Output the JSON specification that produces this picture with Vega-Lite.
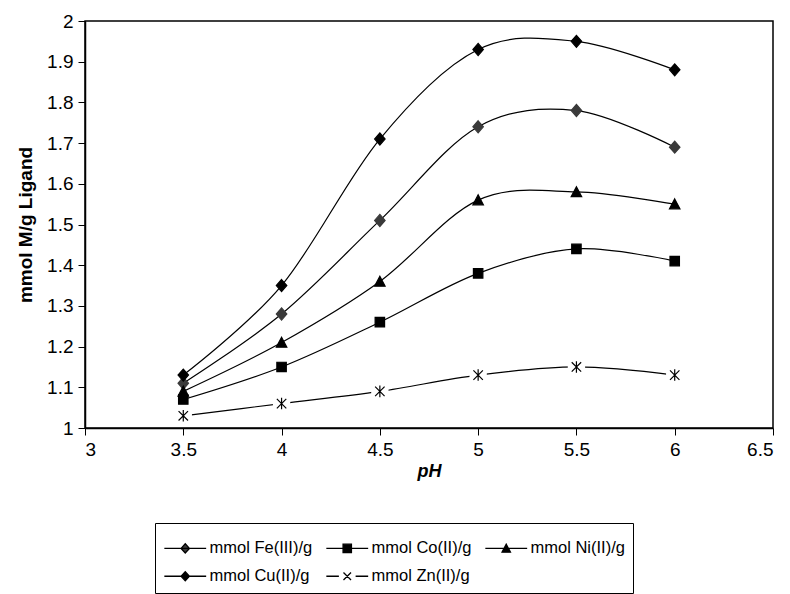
{
  "$schema": "https://vega.github.io/schema/vega-lite/v6.json",
  "width": 688,
  "height": 407,
  "autosize": {"type": "none"},
  "padding": {"left": 85, "top": 21, "right": 17, "bottom": 166},
  "background": "white",
  "config": {
    "font": "Liberation Sans",
    "view": {"stroke": "black", "strokeWidth": 1.5},
    "axis": {"grid": false, "domainColor": "black", "tickColor": "black", "labelColor": "black", "titleColor": "black", "labelFontSize": 19, "titleFontSize": 19, "tickSize": 7, "labelPadding": 5, "domainWidth": 1.5, "tickWidth": 1}
  },
  "resolve": {"scale": {"shape": "independent", "fill": "independent", "stroke": "independent"}},
  "data": {"values": [
    {"ph": 3.5, "v": 1.11, "s": "mmol Fe(III)/g"},
    {"ph": 4.0, "v": 1.28, "s": "mmol Fe(III)/g"},
    {"ph": 4.5, "v": 1.51, "s": "mmol Fe(III)/g"},
    {"ph": 5.0, "v": 1.74, "s": "mmol Fe(III)/g"},
    {"ph": 5.5, "v": 1.78, "s": "mmol Fe(III)/g"},
    {"ph": 6.0, "v": 1.69, "s": "mmol Fe(III)/g"},
    {"ph": 3.5, "v": 1.07, "s": "mmol Co(II)/g"},
    {"ph": 4.0, "v": 1.15, "s": "mmol Co(II)/g"},
    {"ph": 4.5, "v": 1.26, "s": "mmol Co(II)/g"},
    {"ph": 5.0, "v": 1.38, "s": "mmol Co(II)/g"},
    {"ph": 5.5, "v": 1.44, "s": "mmol Co(II)/g"},
    {"ph": 6.0, "v": 1.41, "s": "mmol Co(II)/g"},
    {"ph": 3.5, "v": 1.09, "s": "mmol Ni(II)/g"},
    {"ph": 4.0, "v": 1.21, "s": "mmol Ni(II)/g"},
    {"ph": 4.5, "v": 1.36, "s": "mmol Ni(II)/g"},
    {"ph": 5.0, "v": 1.56, "s": "mmol Ni(II)/g"},
    {"ph": 5.5, "v": 1.58, "s": "mmol Ni(II)/g"},
    {"ph": 6.0, "v": 1.55, "s": "mmol Ni(II)/g"},
    {"ph": 3.5, "v": 1.13, "s": "mmol Cu(II)/g"},
    {"ph": 4.0, "v": 1.35, "s": "mmol Cu(II)/g"},
    {"ph": 4.5, "v": 1.71, "s": "mmol Cu(II)/g"},
    {"ph": 5.0, "v": 1.93, "s": "mmol Cu(II)/g"},
    {"ph": 5.5, "v": 1.95, "s": "mmol Cu(II)/g"},
    {"ph": 6.0, "v": 1.88, "s": "mmol Cu(II)/g"},
    {"ph": 3.5, "v": 1.03, "s": "mmol Zn(II)/g"},
    {"ph": 4.0, "v": 1.06, "s": "mmol Zn(II)/g"},
    {"ph": 4.5, "v": 1.09, "s": "mmol Zn(II)/g"},
    {"ph": 5.0, "v": 1.13, "s": "mmol Zn(II)/g"},
    {"ph": 5.5, "v": 1.15, "s": "mmol Zn(II)/g"},
    {"ph": 6.0, "v": 1.13, "s": "mmol Zn(II)/g"}
  ]},
  "encoding": {
    "x": {"field": "ph", "type": "quantitative", "scale": {"domain": [3, 6.5], "nice": false, "zero": false},
      "axis": {"values": [3, 3.5, 4, 4.5, 5, 5.5, 6, 6.5], "format": "~g", "title": "pH", "titleFontStyle": "italic", "titleFontWeight": "bold", "titleFontSize": 18, "titlePadding": 3}},
    "y": {"field": "v", "type": "quantitative", "scale": {"domain": [1, 2], "nice": false, "zero": false},
      "axis": {"values": [1, 1.1, 1.2, 1.3, 1.4, 1.5, 1.6, 1.7, 1.8, 1.9, 2], "format": "~g", "title": "mmol M/g Ligand", "titleFontWeight": "bold", "titlePadding": 11}}
  },
  "layer": [
    {
      "mark": {"type": "line", "interpolate": "cardinal", "tension": 0, "color": "black", "strokeWidth": 1.2},
      "encoding": {"detail": {"field": "s"}}
    },
    {
      "transform": [{"filter": "datum.s == 'mmol Zn(II)/g'"}],
      "mark": {"type": "square", "color": "white", "opacity": 1, "size": 300}
    },
    {
      "mark": {"type": "point", "filled": true, "size": 110, "strokeWidth": 1.2, "opacity": 1},
      "encoding": {
        "shape": {"field": "s", "type": "nominal", "legend": null,
          "scale": {"domain": ["mmol Fe(III)/g", "mmol Co(II)/g", "mmol Ni(II)/g", "mmol Cu(II)/g", "mmol Zn(II)/g"],
            "range": ["M0,-1.15L1,0L0,1.15L-1,0Z", "M-0.9,-0.9H0.9V0.9H-0.9Z", "M0,-1L1,0.9H-1Z", "M0,-1.15L1,0L0,1.15L-1,0Z", "M-0.9,-0.9L0.9,0.9M0.9,-0.9L-0.9,0.9M0,-1.1V1.1"]}},
        "fill": {"field": "s", "type": "nominal", "legend": null,
          "scale": {"domain": ["mmol Fe(III)/g", "mmol Co(II)/g", "mmol Ni(II)/g", "mmol Cu(II)/g", "mmol Zn(II)/g"],
            "range": ["#3a3a3a", "black", "black", "black", "white"]}},
        "stroke": {"field": "s", "type": "nominal", "legend": null,
          "scale": {"domain": ["mmol Fe(III)/g", "mmol Co(II)/g", "mmol Ni(II)/g", "mmol Cu(II)/g", "mmol Zn(II)/g"],
            "range": ["#3a3a3a", "black", "black", "black", "black"]}}
      }
    },
    {
      "transform": [{"filter": "datum.ph > 100"}],
      "mark": {"type": "point", "filled": true, "size": 70, "stroke": "black", "strokeWidth": 1.3, "opacity": 1},
      "encoding": {
        "shape": {"field": "s", "type": "nominal",
          "scale": {"domain": ["mmol Fe(III)/g", "mmol Co(II)/g", "mmol Ni(II)/g", "mmol Cu(II)/g", "mmol Zn(II)/g"],
            "range": ["M-5,0H5M0,-1.1L1,0L0,1.1L-1,0Z", "M-5,0H5M-1,-1H1V1H-1Z", "M-5,0H5M0,-1L1,0.9H-1Z", "M-5,0H5M0,-1.1L1,0L0,1.1L-1,0Z", "M-5,0H-2M2,0H5M-0.9,-0.9L0.9,0.9M0.9,-0.9L-0.9,0.9"]},
          "legend": {
            "orient": "none", "legendX": 70, "legendY": 502, "title": " ", "titleFontSize": 6, "titlePadding": 3,
            "direction": "horizontal", "columns": 3,
            "strokeColor": "black", "padding": 8, "fillColor": "white",
            "symbolSize": 70, "symbolOffset": 14, "labelOffset": 16, "labelFontSize": 16.5, "labelColor": "black",
            "columnPadding": 10, "rowPadding": 11, "symbolStrokeWidth": 1.3, "labelLimit": 300
          }},
        "fill": {"field": "s", "type": "nominal",
          "scale": {"domain": ["mmol Fe(III)/g", "mmol Co(II)/g", "mmol Ni(II)/g", "mmol Cu(II)/g", "mmol Zn(II)/g"],
            "range": ["#3a3a3a", "black", "black", "black", "black"]},
          "legend": {
            "orient": "none", "legendX": 70, "legendY": 502, "title": " ", "titleFontSize": 6, "titlePadding": 3,
            "direction": "horizontal", "columns": 3,
            "strokeColor": "black", "padding": 8, "fillColor": "white",
            "symbolSize": 70, "symbolOffset": 14, "labelOffset": 16, "labelFontSize": 16.5, "labelColor": "black",
            "columnPadding": 10, "rowPadding": 11, "symbolStrokeWidth": 1.3, "labelLimit": 300
          }}
      }
    }
  ]
}
